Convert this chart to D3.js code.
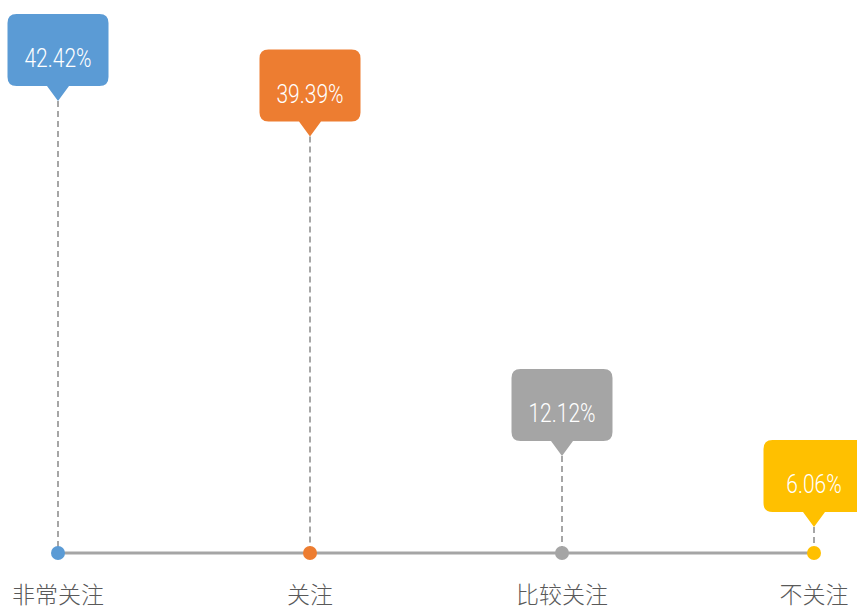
<!DOCTYPE html>
<html>
<head>
<meta charset="utf-8">
<script src="https://cdn.jsdelivr.net/npm/d3@7"></script>
<style>
  html, body { margin: 0; padding: 0; background: #fff; overflow: hidden; }
</style>
</head>
<body>
<svg id="chart"></svg>
<script>
// data
const categories = ["非常关注", "关注", "比较关注", "不关注"];
const values = [42.42, 39.39, 12.12, 6.06];
const colors = ["#5b9bd5", "#ed7d31", "#a5a5a5", "#ffc000"];

const width = 857, height = 609;
const baseY = 553;

const svg = d3.select("#chart")
	.attr("width", width)
	.attr("height", height);

// x positions of the stems
const x = d3.scalePoint()
	.domain(categories)
	.range([58, 814]);

// the tip of each callout sits at the value height
const y = d3.scaleLinear()
	.domain([0, 42.42])
	.range([598, 101]);

const data = categories.map((c, i) => ({ cat: c, value: values[i], color: colors[i] }));

// dashed stems
svg.append("g")
	.selectAll("line")
	.data(data)
	.join("line")
	.attr("x1", d => x(d.cat))
	.attr("x2", d => x(d.cat))
	.attr("y1", d => y(d.value))
	.attr("y2", baseY)
	.attr("stroke", "#a6a6a6")
	.attr("stroke-width", 2)
	.attr("stroke-dasharray", "6,4");

// baseline
svg.append("line")
	.attr("x1", x(categories[0]))
	.attr("x2", x(categories[categories.length - 1]))
	.attr("y1", baseY)
	.attr("y2", baseY)
	.attr("stroke", "#a5a5a5")
	.attr("stroke-width", 3);

// dots
svg.append("g")
	.selectAll("circle")
	.data(data)
	.join("circle")
	.attr("cx", d => x(d.cat))
	.attr("cy", baseY)
	.attr("r", 7)
	.attr("fill", d => d.color);

// callout boxes
const boxW = 101, boxH = 72, r = 9, pw = 11, ph = 15;
function calloutPath(cx, tipY) {
	const b = tipY - ph, t = b - boxH, l = cx - boxW / 2, rr = cx + boxW / 2;
	return `M${l + r},${t} H${rr - r} Q${rr},${t} ${rr},${t + r} V${b - r} Q${rr},${b} ${rr - r},${b}` +
		` H${cx + pw} L${cx},${tipY} L${cx - pw},${b} H${l + r} Q${l},${b} ${l},${b - r} V${t + r} Q${l},${t} ${l + r},${t} Z`;
}

const callouts = svg.append("g")
	.selectAll("g")
	.data(data)
	.join("g");

callouts.append("path")
	.attr("d", d => calloutPath(x(d.cat), y(d.value)))
	.attr("fill", d => d.color);

// condensed light numbers: squeeze Roboto Light horizontally
callouts.append("text")
	.attr("transform", d => `translate(${x(d.cat)},${y(d.value) - ph - boxH / 2 + 17}) scale(0.84,1)`)
	.attr("text-anchor", "middle")
	.attr("fill", "#fff")
	.style("font-family", "Roboto, sans-serif")
	.style("font-weight", 300)
	.style("font-size", "25px")
	.text(d => d.value.toFixed(2) + "%");

// category labels
svg.append("g")
	.selectAll("text")
	.data(data)
	.join("text")
	.attr("x", d => x(d.cat))
	.attr("y", 603)
	.attr("text-anchor", "middle")
	.attr("fill", "#595959")
	.style("font-family", "'Noto Sans CJK SC', sans-serif")
	.style("font-weight", 300)
	.style("font-size", "23px")
	.text(d => d.cat);
</script>
</body>
</html>
